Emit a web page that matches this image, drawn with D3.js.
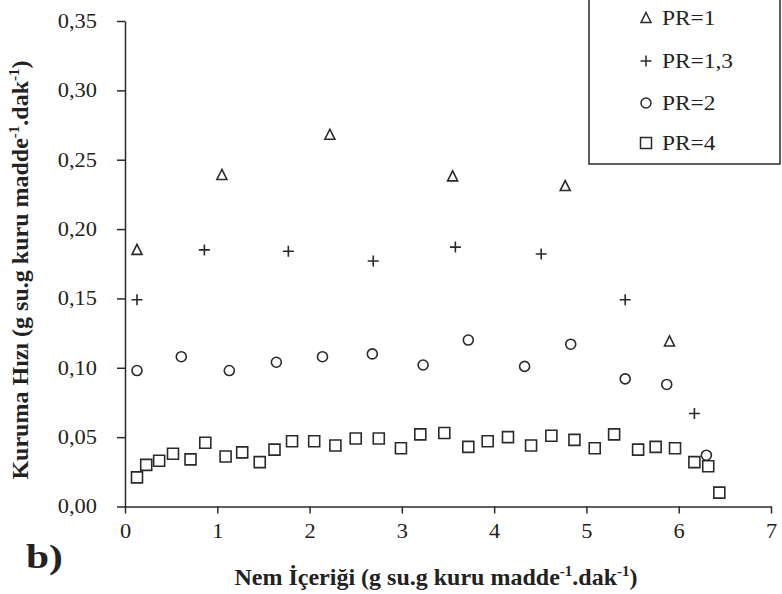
<!DOCTYPE html>
<html><head><meta charset="utf-8">
<script src="https://cdn.jsdelivr.net/npm/d3@7"></script>
<style>body{margin:0;background:#fff}svg{display:block}
svg text{font-family:"Liberation Serif","Times New Roman","DejaVu Serif",serif;}</style>
</head><body>
<svg id="c" width="782" height="594"></svg>
<script>
const xTicks = [0,1,2,3,4,5,6,7];
const yTicks = [0,0.05,0.10,0.15,0.20,0.25,0.30,0.35];

const pr1X = [0.13, 1.05, 2.22, 3.55, 4.77, 5.90];
const pr1Y = [0.185, 0.239, 0.268, 0.238, 0.231, 0.119];

const pr13X = [0.13, 0.86, 1.77, 2.69, 3.58, 4.51, 5.42, 6.17];
const pr13Y = [0.149, 0.185, 0.184, 0.177, 0.187, 0.182, 0.149, 0.067];

const pr2X = [0.13, 0.61, 1.13, 1.64, 2.14, 2.68, 3.23, 3.72, 4.33, 4.83, 5.42, 5.87, 6.30];
const pr2Y = [0.098, 0.108, 0.098, 0.104, 0.108, 0.110, 0.102, 0.120, 0.101, 0.117, 0.092, 0.088, 0.037];

const pr4X = [0.13,0.23,0.37,0.52,0.71,0.87,1.09,1.27,1.46,1.62,1.81,2.05,2.28,2.50,2.75,2.99,3.20,3.46,3.72,3.93,4.15,4.40,4.62,4.87,5.09,5.30,5.56,5.75,5.96,6.17,6.32,6.44];
const pr4Y = [0.021,0.030,0.033,0.038,0.034,0.046,0.036,0.039,0.032,0.041,0.047,0.047,0.044,0.049,0.049,0.042,0.052,0.053,0.043,0.047,0.050,0.044,0.051,0.048,0.042,0.052,0.041,0.043,0.042,0.032,0.029,0.010];

const seriesNames = ["PR=1", "PR=1,3", "PR=2", "PR=4"];

const svg = d3.select("#c");
const x = d3.scaleLinear().domain([0,7]).range([125,771]);
const y = d3.scaleLinear().domain([0,0.35]).range([506.5,21]);
const ink = "#2a2a2a";
const FONT = '"Liberation Serif","Times New Roman","DejaVu Serif",serif';

// horizontally widen a text to mimic the reference's wider glyphs
function widen(sel, k){
  sel.each(function(){
    const L = this.getComputedTextLength();
    d3.select(this).attr("textLength", L*k).attr("lengthAdjust", "spacingAndGlyphs");
  });
}

const triType = {draw(ctx, s){ const h=s; ctx.moveTo(0,-h*0.55); ctx.lineTo(h*0.5,h*0.45); ctx.lineTo(-h*0.5,h*0.45); ctx.closePath(); }};
const plusType = {draw(ctx, s){ const h=s/2; ctx.moveTo(-h,0); ctx.lineTo(h,0); ctx.moveTo(0,-h); ctx.lineTo(0,h); }};
const circType = {draw(ctx, s){ const r=s/2; ctx.moveTo(r,0); ctx.arc(0,0,r,0,2*Math.PI); }};
const sqType = {draw(ctx, s){ const h=s/2; ctx.rect(-h,-h,s,s); }};
const shapes = [
  d3.symbol().type(triType).size(10)(),
  d3.symbol().type(plusType).size(11)(),
  d3.symbol().type(circType).size(10)(),
  d3.symbol().type(sqType).size(11)()
];

const fmtY = d => d3.format(".2f")(d).replace(".", ",");
const gx = svg.append("g").attr("transform", `translate(0,${y(0)})`)
  .call(d3.axisBottom(x).tickValues(xTicks).tickFormat(d3.format("d")).tickSize(7).tickSizeOuter(0).tickPadding(10));
const gy = svg.append("g").attr("transform", `translate(${x(0)},0)`)
  .call(d3.axisLeft(y).tickValues(yTicks).tickSize(8).tickSizeOuter(0).tickPadding(20).tickFormat(fmtY));
[gx, gy].forEach(g => {
  g.attr("font-family", FONT);
  g.select(".domain").attr("stroke", ink).attr("stroke-width", 1.5);
  g.selectAll(".tick line").attr("stroke", ink).attr("stroke-width", 1.5);
  g.selectAll(".tick text").attr("font-size", 20).attr("fill", "#222");
  widen(g.selectAll(".tick text"), 1.12);
});

const data = [[pr1X,pr1Y],[pr13X,pr13Y],[pr2X,pr2Y],[pr4X,pr4Y]];
data.forEach((s, i) => {
  svg.append("g").selectAll("path").data(s[0].map((v,j)=>[v, s[1][j]])).join("path")
    .attr("d", shapes[i])
    .attr("transform", d => `translate(${x(d[0])},${y(d[1])})`)
    .attr("fill", "none").attr("stroke", ink).attr("stroke-width", 1.6);
});

const lg = svg.append("g");
lg.append("rect").attr("x", 589).attr("y", -5).attr("width", 191).attr("height", 169)
  .attr("fill", "#fff").attr("stroke", ink).attr("stroke-width", 1.5);
const rowY = [18, 61, 103, 143];
seriesNames.forEach((n, i) => {
  lg.append("path").attr("d", shapes[i]).attr("transform", `translate(646,${rowY[i]})`)
    .attr("fill","none").attr("stroke", ink).attr("stroke-width", 1.5);
  const t = lg.append("text").attr("x", 662).attr("y", rowY[i]).attr("dy", "0.35em")
    .attr("font-size", 20).attr("fill", "#222").text(n);
  widen(t, 1.17);
});

const xt = svg.append("text").attr("x", 436).attr("y", 585).attr("text-anchor", "middle")
  .attr("font-weight", "bold").attr("font-size", 24).attr("fill", "#222");
xt.append("tspan").text("Nem İçeriği (g su.g kuru madde");
xt.append("tspan").attr("dy", -9).attr("font-size", 15).text("-1");
xt.append("tspan").attr("dy", 9).text(".dak");
xt.append("tspan").attr("dy", -9).attr("font-size", 15).text("-1");
xt.append("tspan").attr("dy", 9).text(")");

const yt = svg.append("text").attr("transform", "translate(28,270) rotate(-90)").attr("text-anchor", "middle")
  .attr("font-weight", "bold").attr("font-size", 24).attr("fill", "#222");
yt.append("tspan").text("Kuruma Hızı (g su.g kuru madde");
yt.append("tspan").attr("dy", -9).attr("font-size", 15).text("-1");
yt.append("tspan").attr("dy", 9).text(".dak");
yt.append("tspan").attr("dy", -9).attr("font-size", 15).text("-1");
yt.append("tspan").attr("dy", 9).text(")");

const b = svg.append("text").attr("x", 26).attr("y", 568).attr("font-weight","bold")
  .attr("font-size", 34).attr("fill", "#222").text("b)");
widen(b, 1.22);
</script>
</body></html>
